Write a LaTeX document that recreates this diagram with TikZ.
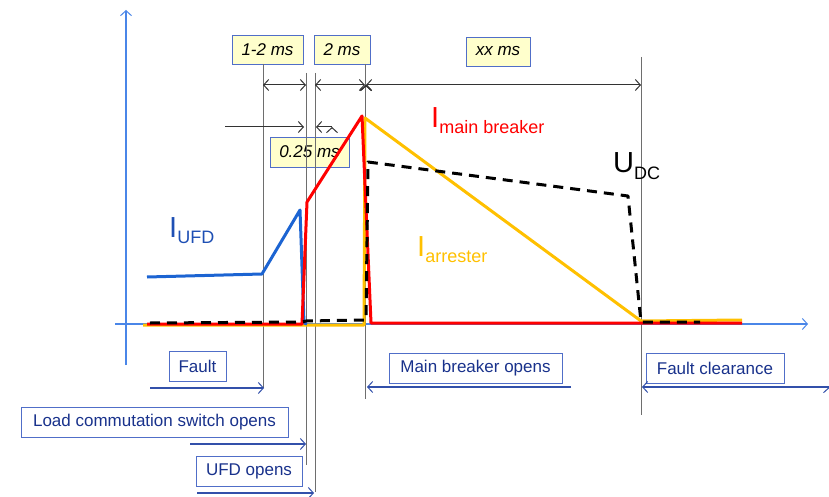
\documentclass[tikz,border=0pt]{standalone}
\usepackage{fontspec}
\setmainfont{Liberation Sans}
\usepackage{xcolor}
\usetikzlibrary{arrows.meta}

\definecolor{axisblue}{RGB}{74,134,232}
\definecolor{ufdblue}{RGB}{28,100,210}
\definecolor{ufdtext}{RGB}{30,79,180}
\definecolor{breakred}{RGB}{255,0,0}
\definecolor{arrestyellow}{RGB}{255,192,0}
\definecolor{boxblue}{RGB}{80,110,200}
\definecolor{boxfill}{RGB}{255,255,204}
\definecolor{textblue}{RGB}{25,50,140}
\definecolor{markblue}{RGB}{50,80,170}
\definecolor{linegray}{RGB}{110,110,110}

\newcommand{\curlab}[2]{{\fontsize{29}{30}\selectfont #1}\raisebox{-6pt}{\fontsize{18}{20}\selectfont #2}}

\tikzset{
	timebox/.style={draw=boxblue,fill=boxfill,inner sep=0pt,minimum height=29,
		font=\fontsize{17}{20}\selectfont\itshape},
	eventbox/.style={draw=boxblue,fill=white,text=textblue,inner sep=0pt,minimum height=30,
		font=\fontsize{17}{20}\selectfont},
	vline/.style={draw=linegray,line width=1pt},
	trace/.style={line width=3pt,line join=round},
	curname/.style={anchor=base west,inner sep=0pt},
	>={Straight Barb[length=5pt,width=11pt,line width=1pt]}
}

\begin{document}
\begin{tikzpicture}[x=1pt,y=-1pt]
	\useasboundingbox (0,0) rectangle (829,497);
	% axes
	\coordinate (Y0) at (126,365);
	\coordinate (Y1) at (126,10);
	\coordinate (X0) at (115,324);
	\coordinate (X1) at (808,324);
	\draw[->,axisblue,line width=1.2pt] (Y0) -- (Y1);
	\draw[->,axisblue,line width=1.2pt] (X0) -- (X1);
	% time boxes
	\node[timebox,minimum width=71] (t12) at (267.5,49.5) {1-2 ms};
	\node[timebox,minimum width=56] (t2) at (342,49.5) {2 ms};
	\node[timebox,minimum width=64] (txx) at (498,51.5) {xx ms};
	\node[timebox,minimum width=79,minimum height=30] (t025) at (309.5,152) {0.25 ms};
	% event boxes
	\node[eventbox,minimum width=57] (fault) at (197.5,366) {Fault};
	\node[eventbox,minimum width=267] (lcs) at (154.5,422) {Load commutation switch opens};
	\node[eventbox,minimum width=106] (ufd) at (249,471) {UFD opens};
	\node[eventbox,minimum width=173] (mbo) at (475.5,368) {Main breaker opens};
	\node[eventbox,minimum width=138] (clr) at (715,368) {Fault clearance};
	% vertical time lines
	\coordinate (A) at (263,64);   \coordinate (A') at (263,388);
	\coordinate (B) at (306,73);   \coordinate (B') at (306,465);
	\coordinate (C) at (315,73);   \coordinate (C') at (315,492);
	\coordinate (D) at (365,64);   \coordinate (D') at (365,399);
	\coordinate (E) at (641,57);   \coordinate (E') at (641,415);
	\path[vline]
	(A) edge (A')
	(B) edge (B')
	(C) edge (C')
	(D) edge (D')
	(E) edge (E');
	%
	\path[<->,draw=black!80,line width=1pt]
	% interval arrows
	(263,85) edge (306,85)
	(315,85) edge (365,85)
	(366,85) edge (641,85);
	\coordinate (P) at (225,127);  \coordinate (P') at (304,127);
	\coordinate (Q) at (332,127);  \coordinate (Q') at (316,127);
	\path[->,draw=black!80,line width=1pt]
	(P) edge (P')
	(Q) edge (Q');
	% event arrows
	\coordinate (F) at (150,388);  \coordinate (F') at (264,388);
	\coordinate (G) at (190,444);  \coordinate (G') at (306,444);
	\coordinate (H) at (197,493);  \coordinate (H') at (314,493);
	\coordinate (M) at (571,387);  \coordinate (M') at (367,387);
	\coordinate (N) at (829,387);  \coordinate (N') at (642,387);
	\path[->,draw=markblue,line width=1.2pt]
	(F) edge (F')
	(G) edge (G')
	(H) edge (H')
	(M) edge (M')
	(N) edge (N');
	% traces
	\draw[trace,arrestyellow] (143,325) -- (364,325) -- (365,118) -- (641,321) -- (742,320);
	\draw[trace,ufdblue] (147,277) -- (262,274) -- (300,210) -- (304,323) -- (307,324);
	\draw[trace,breakred] (147,324) -- (302,324) -- (307,202) -- (362,116) -- (371,323) -- (742,323);
	\draw[trace,black,dash pattern=on 10pt off 7pt] (150,323) -- (302,322) -- (306,321) -- (366,320)
		-- (368,162) -- (628,196) -- (641,322) -- (700,322);
	% trace names
	\node[curname,text=ufdtext] (iufd) at (169,237) {\curlab{I}{UFD}};
	\node[curname,text=breakred] (imain) at (431,128) {\curlab{I}{main breaker}};
	\node[curname,text=arrestyellow] (iarr) at (417,256) {\curlab{I}{arrester}};
	\node[curname,text=black] (udc) at (613,173) {\curlab{U}{DC}};
\end{tikzpicture}
\end{document}
